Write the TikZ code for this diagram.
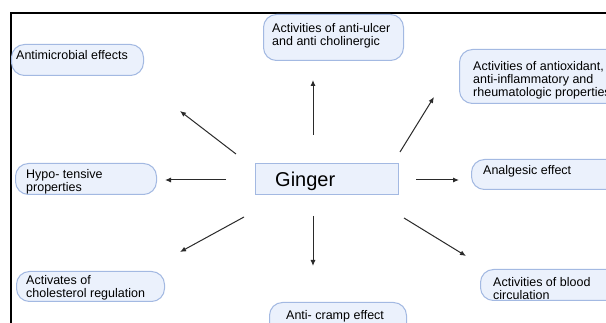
\documentclass[tikz,border=0pt]{standalone}
\usepackage{fontspec}
\setmainfont{Liberation Sans}
\usetikzlibrary{arrows.meta}

\definecolor{boxfill}{HTML}{EBF1FC}
\definecolor{boxline}{HTML}{A3B9E2}
\definecolor{arrowcol}{HTML}{2A2A2A}

\tikzset{
  pill/.style={draw=boxline, fill=boxfill, line width=1pt, rounded corners=13pt,
               inner sep=0pt, anchor=north west},
  centrebox/.style={draw=boxline, fill=boxfill, line width=1pt,
               inner sep=0pt, anchor=north west},
  lbl/.style={inner sep=0pt, anchor=base west, align=left,
              font=\fontsize{12.5}{13}\selectfont, text=black},
  ray/.style={draw=arrowcol, line width=1pt, -{Latex[length=6pt,width=5pt]}},
}

\begin{document}
\begin{tikzpicture}[x=1pt, y=-1pt]
\useasboundingbox (0,0) rectangle (606,323);
\fill[white] (0,0) rectangle (606,323);

% outer frame (top and left edges)
\draw[black, line width=1.3pt] (11,330) -- (11,13) -- (620,13);

% boxes
\node[pill, minimum width=132pt, minimum height=31pt] (bMicro) at (11,44) {};
\node[pill, minimum width=140pt, minimum height=46pt] (bUlcer) at (263,14) {};
\node[pill, minimum width=180pt, minimum height=54pt] (bOxid) at (459,49) {};
\node[pill, minimum width=141pt, minimum height=31pt] (bHypo) at (15,163) {};
\node[centrebox, minimum width=143pt, minimum height=31pt] (bGinger) at (255,163) {};
\node[pill, minimum width=170pt, minimum height=30pt] (bAnalg) at (471,159) {};
\node[pill, minimum width=148pt, minimum height=30pt] (bChol) at (16,271) {};
\node[pill, minimum width=137pt, minimum height=40pt] (bCramp) at (269,302) {};
\node[pill, minimum width=160pt, minimum height=31pt] (bBlood) at (480,269) {};

% labels (anchored on the baseline of their last line)
\node[lbl] (tMicro) at (16,60) {Antimicrobial effects};
\node[lbl] (tUlcer) at (272,46) {Activities of anti-ulcer\\and anti cholinergic};
\node[lbl] (tOxid) at (473,97) {Activities of antioxidant,\\anti-inflammatory and\\rheumatologic properties};
\node[lbl] (tHypo) at (26,191.5) {Hypo- tensive\\properties};
\node[lbl, font=\fontsize{20}{24}\selectfont] (tGinger) at (275,187) {Ginger};
\node[lbl] (tAnalg) at (483,175) {Analgesic effect};
\node[lbl] (tChol) at (26,297.5) {Activates of\\cholesterol regulation};
\node[lbl] (tCramp) at (286,320) {Anti- cramp effect};
\node[lbl] (tBlood) at (493,299.5) {Activities of blood\\circulation};

% arrow end points
\coordinate (sUp) at (313,135);   \coordinate (eUp) at (313,80);
\coordinate (sUR) at (400,152);   \coordinate (eUR) at (434,97);
\coordinate (sUL) at (236,154);   \coordinate (eUL) at (180,111);
\coordinate (sL) at (226,180);    \coordinate (eL) at (165,180);
\coordinate (sR) at (416,180);    \coordinate (eR) at (459,180);
\coordinate (sDL) at (244,217);   \coordinate (eDL) at (180,252);
\coordinate (sD) at (313,216);    \coordinate (eD) at (313,266);
\coordinate (sDR) at (404,218);   \coordinate (eDR) at (466,256);

% arrows radiating from the centre
\draw[ray] (sUp) -- (eUp);
\draw[ray] (sUR) -- (eUR);
\draw[ray] (sUL) -- (eUL);
\draw[ray] (sL) -- (eL);
\draw[ray] (sR) -- (eR);
\draw[ray] (sDL) -- (eDL);
\draw[ray] (sD) -- (eD);
\draw[ray] (sDR) -- (eDR);
\end{tikzpicture}
\end{document}
